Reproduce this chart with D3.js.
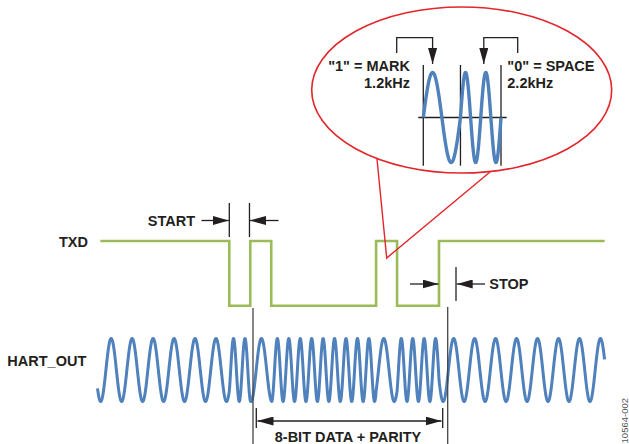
<!DOCTYPE html>
<html>
<head>
<meta charset="utf-8">
<script src="https://cdn.jsdelivr.net/npm/d3@7"></script>
<style>
html, body { margin: 0; padding: 0; background: #fff; }
svg { display: block; font-family: "Liberation Sans", Arial, sans-serif; }
</style>
</head>
<body>
<div id="container"></div>
<script>
// frame: start bit, 8 data bits, parity bit
const frameBits = [0, 1, 0, 0, 0, 0, 0, 1, 0, 0];
const idleBefore = 6.15;   // bit times of idle (mark) before the start bit
const idleAfter = 7.9;     // stop bit + idle after the frame
const baud = 1200;
const markHz = 1200;
const spaceHz = 2200;
const startPhase = 0.634;  // HART_OUT phase (cycles after a peak) at the start bit edge

// callout: one MARK cycle then two SPACE cycles
const calloutHz = [1200, 2200];
const calloutCycles = [1, 2];

const signalLabels = ["TXD", "HART_OUT"];
const markLabels = ['"1" = MARK', "1.2kHz"];
const spaceLabels = ['"0" = SPACE', "2.2kHz"];

const W = 629, H = 444;
const blue = "#4f81bd", green = "#9bbb59", red = "#e3262b", ink = "#231f20";

const svg = d3.select("#container")
	.append("svg")
	.attr("width", W)
	.attr("height", H);

const defs = svg.append("defs");
defs.append("marker")
	.attr("id", "arrow")
	.attr("viewBox", "0 0 16 9")
	.attr("refX", 16).attr("refY", 4.5)
	.attr("markerWidth", 16).attr("markerHeight", 9)
	.attr("markerUnits", "userSpaceOnUse")
	.attr("orient", "auto-start-reverse")
	.append("path")
	.attr("d", "M0,0L16,4.5L0,9Z")
	.attr("fill", ink);

// bit-time scale shared by TXD and HART_OUT
const x = d3.scaleLinear().domain([0, frameBits.length]).range([229.3, 439]);
const yTxd = d3.scaleLinear().domain([0, 1]).range([305.7, 241]);
const yHart = d3.scaleLinear().domain([-1, 1]).range([401.5, 338.5]);

const bitAt = t => (t >= 0 && t < frameBits.length) ? frameBits[Math.floor(t)] : 1;

// ---- TXD ----
const txdSteps = [{ t: -idleBefore, v: 1 }]
	.concat(frameBits.map((b, i) => ({ t: i, v: b })))
	.concat([{ t: frameBits.length, v: 1 }, { t: frameBits.length + idleAfter, v: 1 }]);

const txdLine = d3.line()
	.x(d => x(d.t))
	.y(d => yTxd(d.v))
	.curve(d3.curveStepAfter);

svg.append("path")
	.attr("d", txdLine(txdSteps))
	.attr("fill", "none")
	.attr("stroke", green)
	.attr("stroke-width", 2.6);

// ---- HART_OUT (continuous phase FSK from the frame bits) ----
const t0 = x.invert(97.5), t1 = frameBits.length + idleAfter;
const dt = 0.01;
const hartPts = [];
let ph = startPhase + t0 * markHz / baud;
for (let t = t0; t <= t1 + 1e-9; t += dt) {
	hartPts.push({ t: t, v: Math.cos(2 * Math.PI * ph) });
	ph += (bitAt(t) ? markHz : spaceHz) / baud * dt;
}

svg.append("path")
	.attr("d", d3.line().x(d => x(d.t)).y(d => yHart(d.v))(hartPts))
	.attr("fill", "none")
	.attr("stroke", blue)
	.attr("stroke-width", 3)
	.attr("stroke-linejoin", "round");

// ---- labels ----
svg.append("text").text(signalLabels[0])
	.attr("x", 88).attr("y", 247.3).attr("text-anchor", "end")
	.attr("font-size", 14.5).attr("font-weight", "bold").attr("fill", ink);
svg.append("text").text(signalLabels[1])
	.attr("x", 7.3).attr("y", 366)
	.attr("font-size", 14.5).attr("font-weight", "bold").attr("fill", ink);

// ---- annotation lines ----
const ann = svg.append("g").attr("stroke", ink).attr("stroke-width", 1.3).attr("fill", "none");

// START
ann.append("line").attr("x1", x(0)).attr("x2", x(0)).attr("y1", 203).attr("y2", 237);
ann.append("line").attr("x1", x(1) - 0.8).attr("x2", x(1) - 0.8).attr("y1", 203).attr("y2", 237);
ann.append("line").attr("x1", 201.5).attr("x2", x(0) - 0.5).attr("y1", 220.5).attr("y2", 220.5).attr("marker-end", "url(#arrow)");
ann.append("line").attr("x1", 278.5).attr("x2", x(1) - 0.3).attr("y1", 220.5).attr("y2", 220.5).attr("marker-end", "url(#arrow)");
svg.append("text").text("START")
	.attr("x", 195).attr("y", 225.5).attr("text-anchor", "end")
	.attr("font-size", 14.5).attr("font-weight", "bold").attr("fill", ink);

// STOP
ann.append("line").attr("x1", 456).attr("x2", 456).attr("y1", 267).attr("y2", 301);
ann.append("line").attr("x1", 410).attr("x2", x(10) - 0.5).attr("y1", 284).attr("y2", 284).attr("marker-end", "url(#arrow)");
ann.append("line").attr("x1", 485).attr("x2", 456.7).attr("y1", 284).attr("y2", 284).attr("marker-end", "url(#arrow)");
svg.append("text").text("STOP")
	.attr("x", 489.3).attr("y", 289.3)
	.attr("font-size", 14.5).attr("font-weight", "bold").attr("fill", ink);

// data span
ann.append("line").attr("x1", 253).attr("x2", 253).attr("y1", 308).attr("y2", 444).attr("stroke", "#444");
ann.append("line").attr("x1", 447.7).attr("x2", 447.7).attr("y1", 307).attr("y2", 444).attr("stroke", "#444");
ann.append("line").attr("x1", 256.3).attr("x2", 256.3).attr("y1", 408).attr("y2", 428);
ann.append("line").attr("x1", 442.7).attr("x2", 442.7).attr("y1", 408).attr("y2", 428);
ann.append("line").attr("x1", 257.5).attr("x2", 441.5).attr("y1", 421).attr("y2", 421)
	.attr("marker-start", "url(#arrow)").attr("marker-end", "url(#arrow)");
svg.append("text").text("8-BIT DATA + PARITY")
	.attr("x", 348).attr("y", 442).attr("text-anchor", "middle")
	.attr("font-size", 14.5).attr("font-weight", "bold").attr("fill", ink);

// ---- callout ----
svg.append("ellipse")
	.attr("cx", 461.7).attr("cy", 90).attr("rx", 150).attr("ry", 83)
	.attr("fill", "none").attr("stroke", red).attr("stroke-width", 1.6);
svg.append("polyline")
	.attr("points", "377,159 386.7,258 490,172")
	.attr("fill", "none").attr("stroke", red).attr("stroke-width", 1.4);

const segDur = calloutHz.map((f, i) => calloutCycles[i] / f);
const segStart = segDur.map((d, i) => d3.sum(segDur.slice(0, i)));
const xc = d3.scaleLinear().domain([0, d3.sum(segDur)]).range([423.3, 501]);
const yc = d3.scaleLinear().domain([-1, 1]).range([162.5, 72.5]);

const cg = svg.append("g").attr("stroke", ink).attr("stroke-width", 1.3).attr("fill", "none");
[0].concat(segStart.slice(1), [d3.sum(segDur)]).forEach(s => {
	cg.append("line").attr("x1", xc(s)).attr("x2", xc(s)).attr("y1", 65).attr("y2", 165.7);
});
cg.append("line").attr("x1", 418.3).attr("x2", 506.7).attr("y1", yc(0)).attr("y2", yc(0));

const calloutPts = [];
calloutHz.forEach((f, i) => {
	const n = 200;
	d3.range(n + 1).forEach(k => {
		const tt = segDur[i] * k / n;
		calloutPts.push({ t: segStart[i] + tt, v: Math.sin(2 * Math.PI * f * tt) });
	});
});
svg.append("path")
	.attr("d", d3.line().x(d => xc(d.t)).y(d => yc(d.v))(calloutPts))
	.attr("fill", "none").attr("stroke", blue).attr("stroke-width", 3.4)
	.attr("stroke-linejoin", "round");

// brackets pointing at a MARK peak and a SPACE peak
const markPeak = xc(segStart[0] + 0.25 / calloutHz[0]);
const spacePeak = xc(segStart[1] + 1.25 / calloutHz[1]) - 2;
cg.append("polyline")
	.attr("points", `396.7,53 396.7,37.7 ${markPeak},37.7 ${markPeak},64`)
	.attr("marker-end", "url(#arrow)");
cg.append("polyline")
	.attr("points", `517.7,53 517.7,37.7 ${spacePeak},37.7 ${spacePeak},64`)
	.attr("marker-end", "url(#arrow)");

markLabels.forEach((s, i) => {
	svg.append("text").text(s)
		.attr("x", 410).attr("y", 71 + i * 16.7).attr("text-anchor", "end")
		.attr("font-size", 14.5).attr("font-weight", "bold").attr("fill", ink);
});
spaceLabels.forEach((s, i) => {
	svg.append("text").text(s)
		.attr("x", 507.3).attr("y", 71 + i * 16.7)
		.attr("font-size", 14.5).attr("font-weight", "bold").attr("fill", ink);
});

// figure id
svg.append("text").text("10564-002")
	.attr("transform", "translate(628,398) rotate(-90)")
	.attr("text-anchor", "end")
	.attr("font-size", 9.5).attr("fill", "#555");
</script>
</body>
</html>
